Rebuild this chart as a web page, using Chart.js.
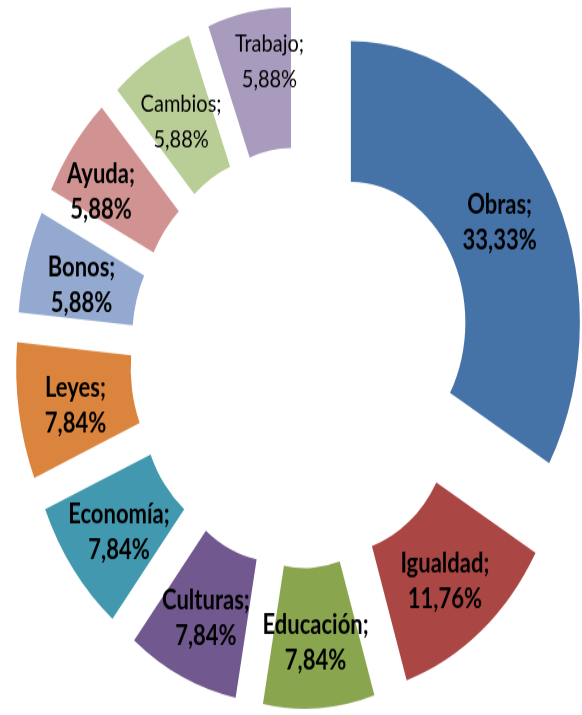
<!DOCTYPE html>
<html>
<head>
<meta charset="utf-8">
<script src="https://cdn.jsdelivr.net/npm/chart.js@4.4.0/dist/chart.umd.min.js"></script>
<style>
  html, body { margin: 0; padding: 0; background: #fff; }
  body { width: 582px; height: 715px; }
  /* the original picture is stretched in height, so the whole canvas is stretched too */
  #wrap { width: 582px; height: 582px; transform: scale(1, 1.2285); transform-origin: 0 0; }
</style>
</head>
<body>
<div id="wrap"><canvas id="donut" width="582" height="582"></canvas></div>
<script>
// Data
const categories = ['Obras', 'Igualdad', 'Educación', 'Culturas', 'Economía', 'Leyes', 'Bonos', 'Ayuda', 'Cambios', 'Trabajo'];
const counts = [17, 6, 4, 4, 4, 4, 3, 3, 3, 3];
const colors = ['#4572A7', '#AA4643', '#89A54E', '#71588F', '#4198AF', '#DB843D', '#93A9CF', '#D19392', '#B9CD96', '#A99BBD'];

// pull every slice out from the centre by the same distance
const explode = {
    id: 'explode',
    afterDatasetUpdate(chart, args) {
        const dist = 57;
        args.meta.data.forEach(arc => {
            const mid = (arc.startAngle + arc.endAngle) / 2;
            arc.x += Math.cos(mid) * dist;
            arc.y += Math.sin(mid) * dist;
        });
    }
};

// "Name; 12,34%" labels in the middle of each slice
const sliceLabels = {
    id: 'sliceLabels',
    afterDatasetsDraw(chart) {
        const ctx = chart.ctx;
        const total = counts.reduce((a, b) => a + b, 0);
        const light = ['Cambios', 'Trabajo'];
        const nudge = { Trabajo: [10, -21], Ayuda: [-18, -1], Cambios: [0, -2] };
        ctx.save();
        ctx.fillStyle = '#000';
        ctx.textAlign = 'center';
        ctx.textBaseline = 'middle';
        chart.getDatasetMeta(0).data.forEach((arc, i) => {
            const name = categories[i];
            const p = arc.tooltipPosition();
            const n = nudge[name] || [0, 0];
            const x = p.x + n[0];
            const y = p.y + 4 + n[1];
            const pct = (counts[i] / total * 100).toFixed(2).replace('.', ',');
            ctx.font = light.includes(name) ? '20px Lato' : 'bold 22px Lato';
            ctx.fillText(name + ';', x, y - 14);
            ctx.fillText(pct + '%', x, y + 15);
        });
        ctx.restore();
    }
};

const ctx = document.getElementById('donut').getContext('2d');
const donut = new Chart(ctx, {
    type: 'doughnut',
    data: {
        labels: categories,
        datasets: [{
            data: counts,
            backgroundColor: colors,
            borderWidth: 0,
            clip: false
        }]
    },
    options: {
        responsive: false,
        animation: false,
        devicePixelRatio: 1,
        events: [],
        radius: 229,
        cutout: '50%',
        layout: { padding: { left: 21 } },
        plugins: {
            legend: { display: false },
            tooltip: { enabled: false }
        }
    },
    plugins: [explode, sliceLabels]
});
</script>
</body>
</html>
